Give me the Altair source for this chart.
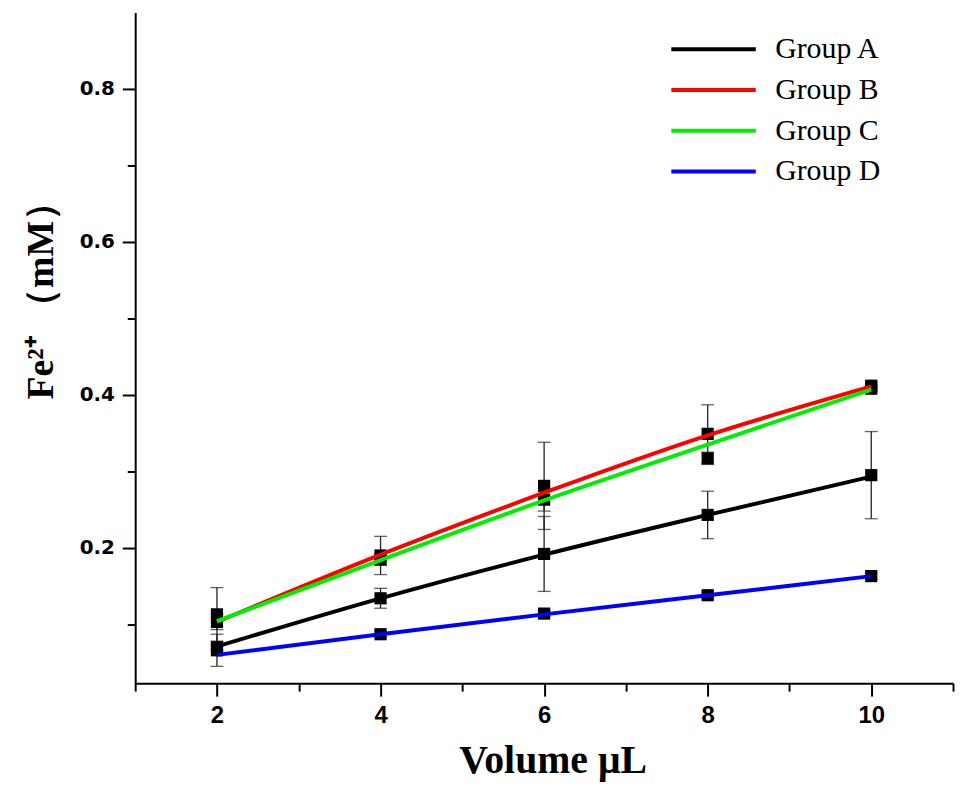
import altair as alt
import pandas as pd

# ---- data ----
volumes = [2, 4, 6, 8, 10]
groups = ["Group A", "Group B", "Group C", "Group D"]
colors = ["#000000", "#ff0000", "#00ee00", "#0000ff"]

# fitted curves (value of each line at each volume)
fit_a = [0.071, 0.134, 0.191, 0.243, 0.293]
fit_b = [0.103, 0.191, 0.272, 0.347, 0.411]
fit_c = [0.104, 0.184, 0.262, 0.335, 0.407]
fit_d = [0.060, 0.087, 0.113, 0.138, 0.163]

# measured means (black squares) and error half-widths
mean_a = [0.066, 0.134, 0.192, 0.243, 0.295]
err_a = [0.021, 0.013, 0.049, 0.031, 0.057]
mean_b = [0.113, 0.190, 0.281, 0.349, 0.412]
err_b = [0.035, 0.025, 0.057, 0.038, 0.005]
mean_c = [0.103, 0.185, 0.263, 0.317, 0.408]
err_c = [0.010, 0.008, 0.015, 0.008, 0.004]
mean_d = [0.070, 0.087, 0.114, 0.138, 0.163]
err_d = [0.004, 0.004, 0.004, 0.004, 0.004]

x_major = [2, 4, 6, 8, 10]
x_minor = [1, 3, 5, 7, 9, 11]
y_major = [0.2, 0.4, 0.6, 0.8]
y_minor = [0.1, 0.3, 0.5, 0.7]

# ---- tables ----
fits = {"Group A": fit_a, "Group B": fit_b, "Group C": fit_c, "Group D": fit_d}
means = {"Group A": mean_a, "Group B": mean_b, "Group C": mean_c, "Group D": mean_d}
errs = {"Group A": err_a, "Group B": err_b, "Group C": err_c, "Group D": err_d}

fit_rows, pt_rows = [], []
for g in groups:
    for i, v in enumerate(volumes):
        fit_rows.append({"volume": v, "fe": fits[g][i], "group": g})
        m, e = means[g][i], errs[g][i]
        pt_rows.append({"volume": v, "fe": m, "lo": m - e, "hi": m + e, "group": g})
fit_df = pd.DataFrame(fit_rows)
pt_df = pd.DataFrame(pt_rows)

xscale = alt.Scale(domain=[1, 11], nice=False, zero=False)
yscale = alt.Scale(domain=[0.023, 0.9], nice=False, zero=False)

axis_common = dict(domainColor="black", domainWidth=2, tickColor="black", tickWidth=2,
                   grid=False)

x_axis_major = alt.Axis(values=x_major, format="d", orient="bottom", tickSize=13,
                        labelFont="Liberation Sans", labelFontWeight="bold",
                        labelFontSize=24, labelColor="black", labelPadding=8,
                        title="Volume μL", titleFont="Liberation Serif",
                        titleFontWeight="bold", titleFontSize=40, titleColor="black",
                        titleBaseline="alphabetic", titleY=90, titleX=420,
                        titleAlign="center",
                        **axis_common)
y_axis_major = alt.Axis(values=y_major, format=".1f", orient="left", tickSize=13,
                        labelFont="DejaVu Sans", labelFontWeight="bold",
                        labelFontSize=20, labelColor="black", labelPadding=8,
                        title="Fe²⁺ （mM）", titleFont="Liberation Serif",
                        titleFontWeight="bold", titleFontSize=38, titleColor="black",
                        titleAngle=-90, titleBaseline="alphabetic", titleAlign="center",
                        titleX=-83, titleY=280,
                        **axis_common)
x_axis_minor = alt.Axis(values=x_minor, orient="bottom", tickSize=8, labels=False,
                        title=None, domain=False, tickColor="black", tickWidth=2, grid=False)
y_axis_minor = alt.Axis(values=y_minor, orient="left", tickSize=8, labels=False,
                        title=None, domain=False, tickColor="black", tickWidth=2, grid=False)

color_enc = alt.Color(
    "group:N",
    scale=alt.Scale(domain=groups, range=colors),
    legend=alt.Legend(orient="none", legendX=567, legendY=22, title=None,
                      symbolType="M-4.25,0H4.25", symbolSize=400, symbolStrokeWidth=4,
                      labelFont="Liberation Serif", labelFontSize=30, labelColor="black",
                      labelOffset=47, rowPadding=11, padding=0),
)

base_pts = alt.Chart(pt_df)

errbars = base_pts.mark_rule(color="#222222", strokeWidth=1.3).encode(
    x=alt.X("volume:Q", scale=xscale, axis=None),
    y=alt.Y("lo:Q", scale=yscale, axis=None),
    y2="hi:Q",
)
cap_lo = base_pts.mark_tick(color="#222222", orient="horizontal", size=13, thickness=1.3).encode(
    x=alt.X("volume:Q", scale=xscale, axis=None),
    y=alt.Y("lo:Q", scale=yscale, axis=None),
)
cap_hi = base_pts.mark_tick(color="#222222", orient="horizontal", size=13, thickness=1.3).encode(
    x=alt.X("volume:Q", scale=xscale, axis=None),
    y=alt.Y("hi:Q", scale=yscale, axis=None),
)
squares = base_pts.mark_point(shape="square", filled=True, size=150, color="black",
                              opacity=1).encode(
    x=alt.X("volume:Q", scale=xscale, axis=None),
    y=alt.Y("fe:Q", scale=yscale, axis=None),
)
lines = alt.Chart(fit_df).mark_line(strokeWidth=4, interpolate="monotone").encode(
    x=alt.X("volume:Q", scale=xscale, axis=x_axis_major),
    y=alt.Y("fe:Q", scale=yscale, axis=y_axis_major),
    color=color_enc,
    order=alt.Order("volume:Q"),
)
minor = alt.Chart(fit_df).mark_point(opacity=0).encode(
    x=alt.X("volume:Q", scale=xscale, axis=x_axis_minor),
    y=alt.Y("fe:Q", scale=yscale, axis=y_axis_minor),
)

chart = alt.layer(minor, errbars, cap_lo, cap_hi, squares, lines).resolve_axis(
    x="independent", y="independent"
).properties(
    width=823, height=675,
    autosize=alt.AutoSizeParams(type="none"),
    padding={"left": 128, "top": 2, "right": 5, "bottom": 99},
    background="white",
).configure_view(stroke=None)

chart.save("out.html", embed_options={"renderer": "svg", "actions": False})
